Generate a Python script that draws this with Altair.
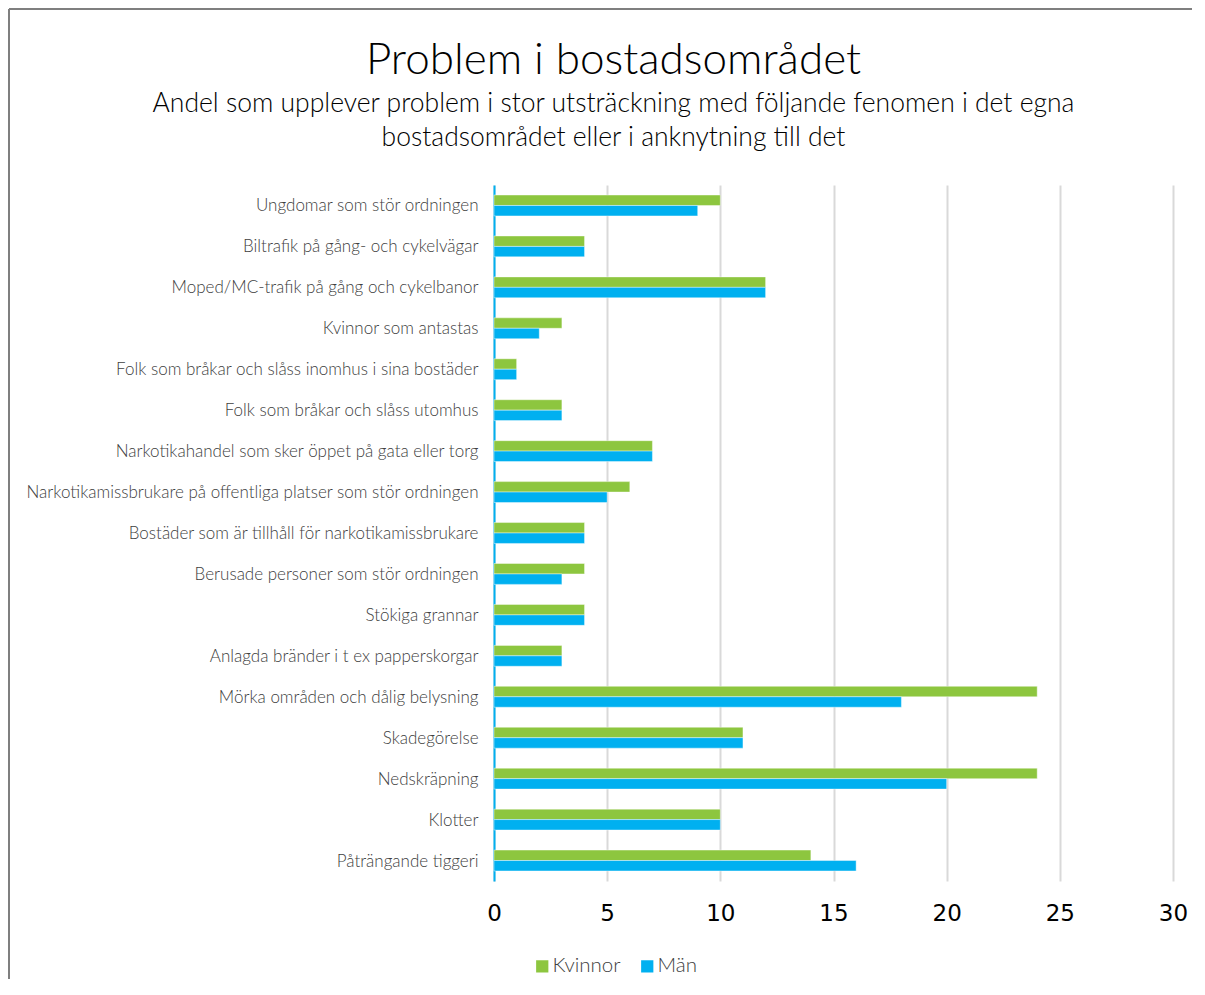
import altair as alt
import pandas as pd

categories = [
    "Ungdomar som stör ordningen",
    "Biltrafik på gång- och cykelvägar",
    "Moped/MC-trafik på gång och cykelbanor",
    "Kvinnor som antastas",
    "Folk som bråkar och slåss inomhus i sina bostäder",
    "Folk som bråkar och slåss utomhus",
    "Narkotikahandel som sker öppet på gata eller torg",
    "Narkotikamissbrukare på offentliga platser som stör ordningen",
    "Bostäder som är tillhåll för narkotikamissbrukare",
    "Berusade personer som stör ordningen",
    "Stökiga grannar",
    "Anlagda bränder i t ex papperskorgar",
    "Mörka områden och dålig belysning",
    "Skadegörelse",
    "Nedskräpning",
    "Klotter",
    "Påträngande tiggeri",
]
kvinnor = [10, 4, 12, 3, 1, 3, 7, 6, 4, 4, 4, 3, 24, 11, 24, 10, 14]
man = [9, 4, 12, 2, 1, 3, 7, 5, 4, 3, 4, 3, 18, 11, 20, 10, 16]
series = ["Kvinnor", "Män"]
colors = ["#8DC63F", "#00B0F0"]
x_ticks = [0, 5, 10, 15, 20, 25, 30]

rows = []
for c, k, m in zip(categories, kvinnor, man):
    rows.append({"Problem": c, "Kön": "Kvinnor", "Andel": k})
    rows.append({"Problem": c, "Kön": "Män", "Andel": m})
df = pd.DataFrame(rows)

bars = alt.Chart(df).mark_bar(stroke="white", strokeWidth=0.6, strokeOpacity=0.7).encode(
    x=alt.X("Andel:Q", scale=alt.Scale(domain=[0, 30], nice=False),
            axis=alt.Axis(values=x_ticks, title=None, domain=False, ticks=False,
                          grid=True, gridColor="#D9D9D9", gridWidth=2,
                          labelFontSize=23, labelFont="DejaVu Sans", labelColor="#000000",
                          labelPadding=21, labelFlush=False)),
    y=alt.Y("Problem:N", sort=categories,
            scale=alt.Scale(paddingInner=0.49, paddingOuter=0.245),
            axis=alt.Axis(title=None, ticks=False, domain=True, domainColor="#00B0F0",
                          domainWidth=2, grid=False, labelFontSize=17, labelFont="Lato",
                          labelFontWeight=300, labelBaseline="middle", labelOffset=1,
                          labelColor="#404040", labelPadding=16, labelLimit=600)),
    yOffset=alt.YOffset("Kön:N", sort=series),
    color=alt.Color("Kön:N", scale=alt.Scale(domain=series, range=colors),
                    legend=alt.Legend(title=None, orient="none", direction="horizontal",
                                      legendX=38, legendY=771, symbolType="square",
                                      symbolSize=150, symbolStrokeWidth=0,
                                      labelFontSize=20.5, labelFont="Lato", labelFontWeight=300,
                                      labelColor="#404040", columnPadding=16,
                                      labelOffset=0)),
)

border_df = pd.DataFrame({"a": [0]})
left_border = alt.Chart(border_df).mark_rule(color="#7F7F7F", strokeWidth=2).encode(
    x=alt.value(-485), y=alt.value(-176), y2=alt.value(1000))
top_border = alt.Chart(border_df).mark_rule(color="#7F7F7F", strokeWidth=2).encode(
    x=alt.value(-485), x2=alt.value(800), y=alt.value(-176))

chart = alt.layer(bars, left_border, top_border).properties(
    width=679,
    height=696,
    autosize=alt.AutoSizeParams(type="none"),
    padding={"left": 486, "top": 177, "right": 19, "bottom": 98},
    title=alt.TitleParams(
        text="Problem i bostadsområdet",
        subtitle=["Andel som upplever problem i stor utsträckning med följande fenomen i det egna",
                  "bostadsområdet eller i anknytning till det"],
        anchor="middle", dx=-220, offset=-143,
        font="Lato", fontSize=44, fontWeight=300, color="#000000",
        subtitleFont="Lato", subtitleFontSize=26.5, subtitleFontWeight=300,
        subtitleColor="#000000", subtitlePadding=8, subtitleLineHeight=34),
).configure_view(stroke=None)

chart.save("out.html", embed_options={"renderer": "svg", "actions": False})
